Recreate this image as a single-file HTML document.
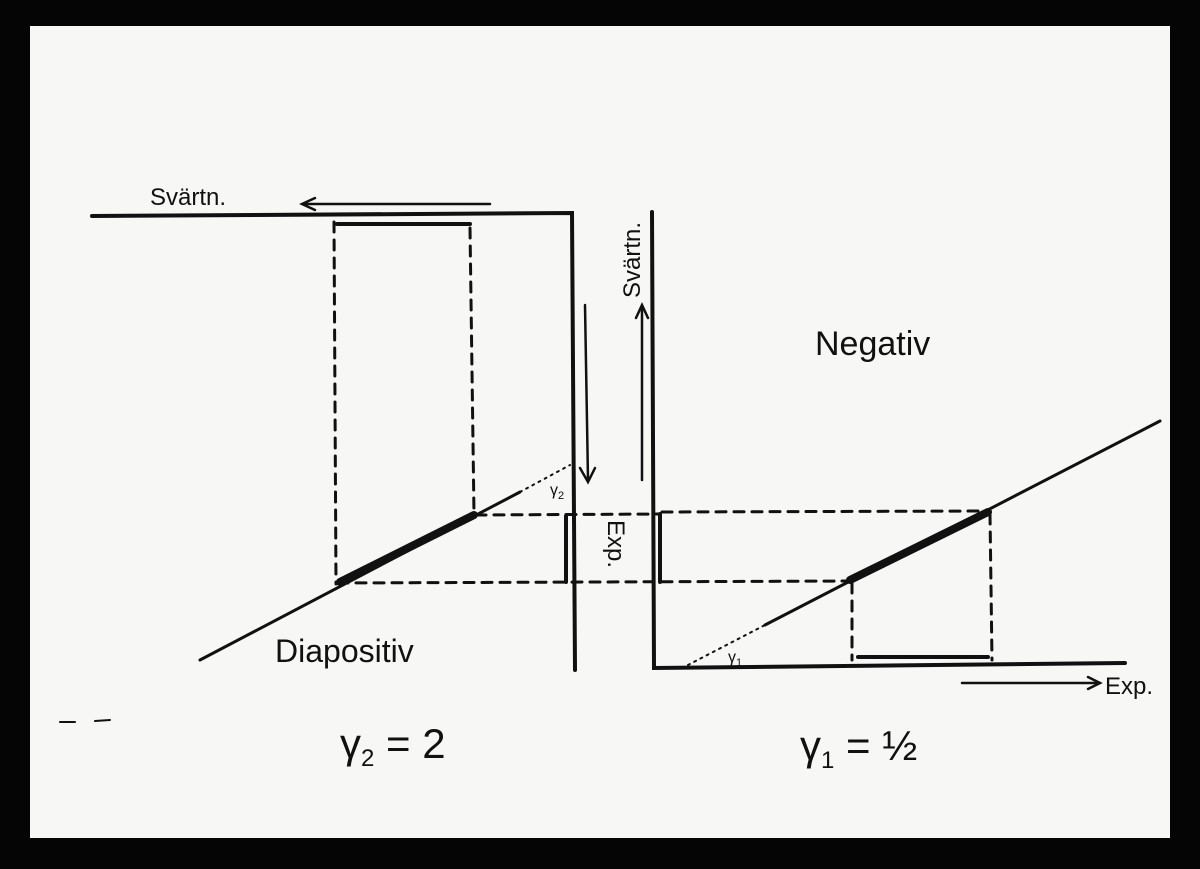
<!DOCTYPE html>
<html><head><meta charset="utf-8"><style>
html,body{margin:0;padding:0;background:#000;}
svg{display:block;}
text{font-family:"Liberation Sans",sans-serif;fill:#111;}
</style></head><body>
<svg width="1200" height="869" viewBox="0 0 1200 869" xmlns="http://www.w3.org/2000/svg">
<rect x="0" y="0" width="1200" height="869" fill="#050505"/>
<rect x="30" y="26" width="1140" height="812" fill="#f7f7f5"/>
<g stroke="#111" fill="none" stroke-linecap="round">
<!-- Diapositiv axes -->
<polyline points="92,216 572,213 575,670" stroke-width="4"/>
<line x1="490" y1="204" x2="305" y2="204" stroke-width="2.5"/>
<polyline points="315,198 302,204 315,210" stroke-width="2.5"/>
<line x1="337" y1="224" x2="470" y2="224" stroke-width="4"/>
<line x1="334" y1="222" x2="336" y2="584" stroke-width="3" stroke-dasharray="10,8"/>
<line x1="470" y1="228" x2="474" y2="514" stroke-width="3" stroke-dasharray="10,8"/>
<line x1="200" y1="660" x2="520" y2="492" stroke-width="3"/>
<line x1="340" y1="582" x2="474" y2="515" stroke-width="8"/>
<line x1="520" y1="492" x2="570" y2="465" stroke-width="2" stroke-dasharray="2,5"/>
<line x1="476" y1="515" x2="660" y2="514" stroke-width="3" stroke-dasharray="10,8"/>
<line x1="338" y1="583" x2="850" y2="581" stroke-width="3" stroke-dasharray="10,8"/>
<line x1="566" y1="516" x2="566" y2="582" stroke-width="4"/>
<line x1="660" y1="514" x2="660" y2="582" stroke-width="4"/>
<line x1="585" y1="305" x2="588" y2="480" stroke-width="2.5"/>
<polyline points="580,468 588,482 595,468" stroke-width="2.5"/>
<!-- Negativ axes -->
<polyline points="652,212 654,668 1125,663" stroke-width="4"/>
<line x1="642" y1="480" x2="642" y2="308" stroke-width="2.5"/>
<polyline points="636,318 642,305 648,318" stroke-width="2.5"/>
<line x1="688" y1="665" x2="765" y2="625" stroke-width="2" stroke-dasharray="2,5"/>
<line x1="765" y1="625" x2="1160" y2="421" stroke-width="3"/>
<line x1="850" y1="580" x2="988" y2="512" stroke-width="8"/>
<line x1="852" y1="583" x2="852" y2="660" stroke-width="3" stroke-dasharray="10,8"/>
<line x1="990" y1="514" x2="992" y2="660" stroke-width="3" stroke-dasharray="10,8"/>
<line x1="662" y1="512" x2="988" y2="511" stroke-width="3" stroke-dasharray="10,8"/>
<line x1="858" y1="657" x2="988" y2="657" stroke-width="4"/>
<line x1="962" y1="683" x2="1100" y2="683" stroke-width="2.5"/>
<polyline points="1088,677 1100,683 1088,689" stroke-width="2.5"/>
<line x1="60" y1="722" x2="75" y2="722" stroke-width="2"/>
<line x1="95" y1="721" x2="110" y2="720" stroke-width="2"/>
</g>
<text x="150" y="205" font-size="24">Svärtn.</text>
<text x="815" y="355" font-size="34">Negativ</text>
<text x="275" y="662" font-size="32">Diapositiv</text>
<text x="1105" y="694" font-size="24">Exp.</text>
<text x="340" y="758" font-size="42">γ<tspan font-size="24" dy="8">2</tspan><tspan dy="-8"> = 2</tspan></text>
<text x="800" y="760" font-size="42">γ<tspan font-size="24" dy="8">1</tspan><tspan dy="-8"> = ½</tspan></text>
<text x="550" y="495" font-size="16">γ<tspan font-size="11" dy="4">2</tspan></text>
<text x="728" y="662" font-size="16">γ<tspan font-size="11" dy="4">1</tspan></text>
<text transform="translate(608,520) rotate(90)" font-size="24">Exp.</text>
<text transform="translate(640,298) rotate(-90)" font-size="24">Svärtn.</text>
</svg>
</body></html>
